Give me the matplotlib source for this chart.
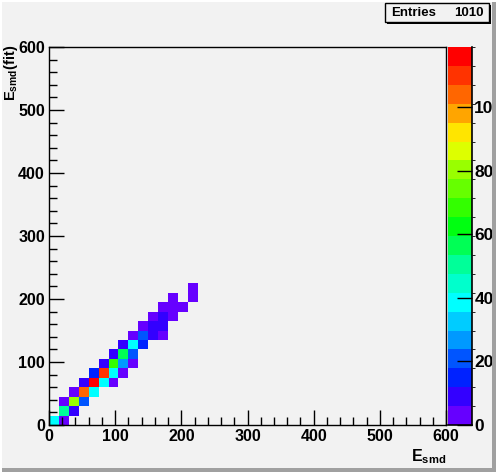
import numpy as np
import matplotlib
matplotlib.use("Agg")
import matplotlib.pyplot as plt
from matplotlib.colors import ListedColormap, BoundaryNorm
from matplotlib.patches import Rectangle

plt.rcParams['font.family'] = ['Liberation Sans', 'DejaVu Sans']

# ---- data (bin indices on a 40x40 grid from 0 to 600, bin width 15) ----
x_bin = [0, 1, 1, 2, 1, 2, 3, 2, 3, 4, 3, 4, 5, 6, 4, 5, 6, 7, 5, 6, 7, 8,
         6, 7, 8, 7, 8, 9, 8, 9, 10, 11, 9, 10, 11, 10, 11, 12, 11, 12, 13, 12, 14, 14]
y_bin = [0, 0, 1, 1, 2, 2, 2, 3, 3, 3, 4, 4, 4, 4, 5, 5, 5, 5, 6, 6, 6, 6,
         7, 7, 7, 8, 8, 8, 9, 9, 9, 9, 10, 10, 10, 11, 11, 11, 12, 12, 12, 13, 13, 14]
counts = [40, 3, 50, 8, 3, 80, 20, 4, 104, 40, 9, 119, 40, 4, 15, 112, 38, 3, 8, 68, 28, 4,
          9, 56, 20, 9, 40, 14, 4, 20, 8, 3, 4, 9, 8, 3, 7, 3, 3, 2, 2, 2, 1, 1]
entries = 1010
x_label = r"E$_{\mathregular{smd}}$"
y_label = r"E$_{\mathregular{smd}}$(fit)"
palette = ['#6600ff', '#3300ff', '#0022ff', '#0055ff', '#0099ff', '#00ccff', '#00ffff',
           '#00ffcc', '#00ff99', '#00ff55', '#00ff11', '#33ff00', '#66ff00', '#99ff00',
           '#ddff00', '#ffe500', '#ffa500', '#ff6600', '#ff3300', '#ff0000']

nbins = 40
edges = np.linspace(0, 600, nbins + 1)
H = np.zeros((nbins, nbins))
for ix, iy, c in zip(x_bin, y_bin, counts):
    H[iy, ix] = c
Hm = np.ma.masked_where(H <= 0, H)

zmax = max(counts)
levels = np.linspace(0, zmax, len(palette) + 1)
cmap = ListedColormap(palette)
norm = BoundaryNorm(levels, cmap.N)

bg = '#f2f2f2'
W, Hh = 496, 472
fig = plt.figure(figsize=(W / 100, Hh / 100), dpi=100, facecolor=bg)

ax = fig.add_axes([49 / W, 1 - 425 / Hh, (446 - 49) / W, (425 - 47) / Hh])
ax.set_facecolor(bg)
ax.pcolormesh(edges, edges, Hm, cmap=cmap, norm=norm)
ax.set_xlim(0, 600)
ax.set_ylim(0, 600)
ax.set_xticks(np.arange(0, 601, 100))
ax.set_yticks(np.arange(0, 601, 100))
ax.set_xticks(np.arange(0, 601, 20), minor=True)
ax.set_yticks(np.arange(0, 601, 20), minor=True)
ax.tick_params(which='major', direction='in', length=11, width=1, labelsize=11.5, pad=3)
ax.tick_params(which='minor', direction='in', length=5.5, width=1)
for lab in ax.get_xticklabels() + ax.get_yticklabels():
    lab.set_fontweight('bold')
for s in ax.spines.values():
    s.set_linewidth(1)

fig.text(446 / W, 1 - 457 / Hh, x_label, ha='right', va='center',
         fontsize=11.5, fontweight='bold')
fig.text(11 / W, 1 - 45 / Hh, y_label, ha='center', va='top', rotation=90,
         fontsize=10.5, fontweight='bold')

# colour bar
cax = fig.add_axes([448 / W, 1 - 425 / Hh, (471.5 - 448) / W, (425 - 47) / Hh])
cb = fig.colorbar(plt.cm.ScalarMappable(norm=norm, cmap=cmap), cax=cax,
                  boundaries=levels)
cb.outline.set_visible(False)
cb.set_ticks(np.arange(0, zmax + 1, 20))
cax.yaxis.set_ticks_position('right')
cax.tick_params(direction='in', length=11, width=1, labelsize=12.5, pad=2)
for lab in cax.get_yticklabels():
    lab.set_fontweight('bold')
cax.spines['right'].set_visible(True)
cax.spines['right'].set_linewidth(1.2)
cax.spines['bottom'].set_visible(True)
cax.spines['bottom'].set_linewidth(1.2)

# stats box
sx0, sy0, sx1, sy1 = 385, 3, 489, 22
fig.patches.append(Rectangle((sx0 / W + 2 / W, 1 - (sy1 + 2) / Hh), (sx1 - sx0) / W, (sy1 - sy0) / Hh,
                             transform=fig.transFigure, facecolor='black', edgecolor='none', zorder=5))
fig.patches.append(Rectangle((sx0 / W, 1 - sy1 / Hh), (sx1 - sx0) / W, (sy1 - sy0) / Hh,
                             transform=fig.transFigure, facecolor=bg, edgecolor='black',
                             linewidth=1, zorder=6))
fig.text(391 / W, 1 - 12.5 / Hh, "Entries", ha='left', va='center', fontsize=9.5,
         fontweight='bold', zorder=7)
fig.text(484 / W, 1 - 12.5 / Hh, f"{entries}", ha='right', va='center', fontsize=9.5,
         fontweight='bold', zorder=7)

# canvas bevel
fig.patches.append(Rectangle((0, 0), 1, 4 / Hh, transform=fig.transFigure,
                             facecolor='#a0a0a0', edgecolor='none', zorder=10))
fig.patches.append(Rectangle((1 - 4 / W, 0), 4 / W, 1, transform=fig.transFigure,
                             facecolor='#a0a0a0', edgecolor='none', zorder=10))
fig.patches.append(Rectangle((0, 0), 2 / W, 1, transform=fig.transFigure,
                             facecolor='white', edgecolor='none', zorder=10))
fig.patches.append(Rectangle((0, 1 - 2 / Hh), 1, 2 / Hh, transform=fig.transFigure,
                             facecolor='white', edgecolor='none', zorder=10))

fig.savefig('out.png', dpi=100, facecolor=bg)
